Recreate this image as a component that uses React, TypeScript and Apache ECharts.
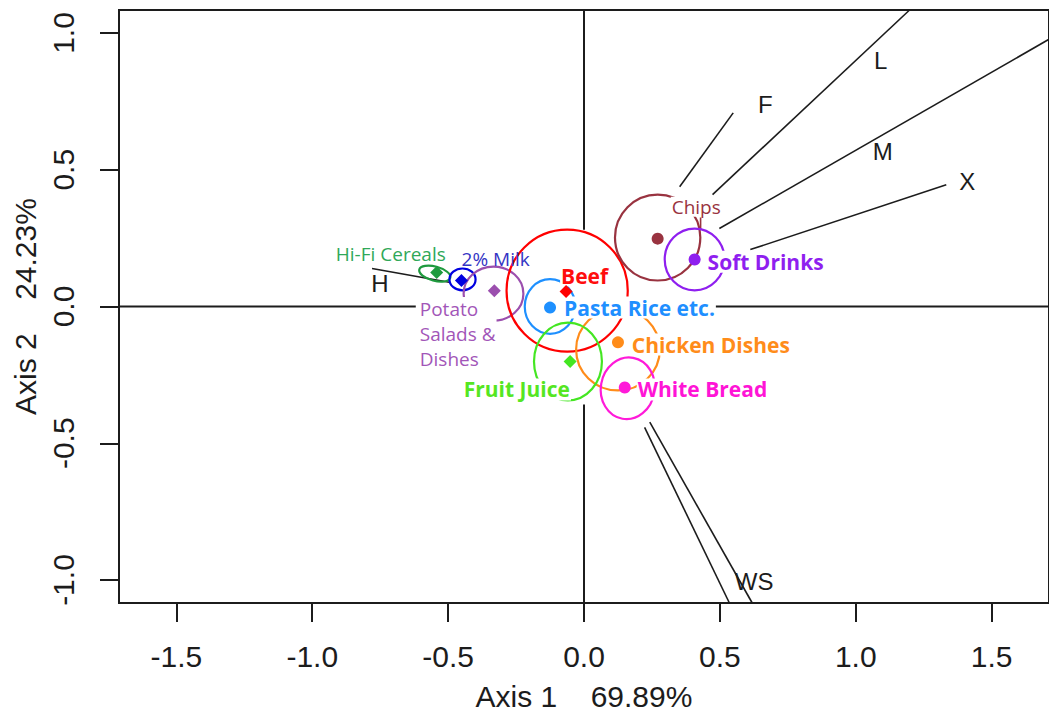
import React, { useEffect, useRef } from "react";
import * as echarts from "echarts";

// ---- axis ticks ----
const xTicks = [-1.5, -1.0, -0.5, 0.0, 0.5, 1.0, 1.5];
const yTicks = [-1.0, -0.5, 0.0, 0.5, 1.0];
const xTitle = "Axis 1    69.89%";
const yTitle = "Axis 2    24.23%";

// ---- food items (row points) ----
const foods = [
  "Hi-Fi Cereals",
  "2% Milk",
  "Potato\nSalads &\nDishes",
  "Beef",
  "Pasta Rice etc.",
  "Chicken Dishes",
  "Fruit Juice",
  "White Bread",
  "Chips",
  "Soft Drinks",
];
const foodX = [-0.542, -0.451, -0.33, -0.066, -0.125, 0.125, -0.051, 0.15, 0.271, 0.407];
const foodY = [0.124, 0.095, 0.058, 0.055, -0.004, -0.131, -0.201, -0.296, 0.248, 0.172];
const foodSymbols = ["diamond", "diamond", "diamond", "diamond", "circle", "circle", "diamond", "circle", "circle", "circle"];
const foodColors = ["#1f9a3e", "#0000e0", "#9b4fae", "#ff0000", "#1e90ff", "#ff8c1a", "#44e622", "#ff1ad9", "#993340", "#8f1fef"];
const labelColors = ["#2fa858", "#3434c4", "#a256b8", "#ff0d0d", "#1f8fff", "#ff8c1a", "#55e622", "#ff14d6", "#993340", "#8f1fef"];
const labelBold = [false, false, false, true, true, true, true, true, false, true];
const labelBg = [true, false, true, true, true, true, true, true, true, true];

// confidence ellipses: centre, radii (data units), rotation (deg)
const ellCX = [-0.549, -0.447, -0.333, -0.062, -0.125, 0.125, -0.059, 0.161, 0.271, 0.407];
const ellCY = [0.12, 0.099, 0.047, 0.058, 0.0, -0.157, -0.201, -0.299, 0.252, 0.172];
const ellRX = [0.059, 0.048, 0.11, 0.223, 0.093, 0.154, 0.125, 0.099, 0.157, 0.11];
const ellRY = [0.026, 0.04, 0.099, 0.223, 0.1, 0.15, 0.142, 0.113, 0.157, 0.113];
const ellRot = [15, 0, 0, 0, 0, 0, 0, 10, 0, 0];

// food label anchors
const labX = [-0.711, -0.454, -0.608, -0.088, -0.077, 0.172, -0.048, 0.194, 0.319, 0.451];
const labY = [0.193, 0.175, -0.102, 0.113, -0.004, -0.139, -0.303, -0.303, 0.365, 0.164];
const labPos = ["inside", "right", "right", "right", "right", "right", "left", "right", "right", "right"];

// ---- variable vectors (column arrows) ----
const varNames = ["H", "F", "L", "M", "X", "WS", "WS"];
const varX1 = [-0.78, 0.352, 0.473, 0.498, 0.612, 0.223, 0.242];
const varY1 = [0.139, 0.438, 0.409, 0.285, 0.208, -0.442, -0.423];
const varX2 = [-0.491, 0.549, 1.198, 1.711, 1.333, 0.535, 0.619];
const varY2 = [0.088, 0.708, 1.084, 0.977, 0.445, -1.084, -1.084];
const varLabels = ["H", "F", "L", "M", "X", "WS"];
const varLabX = [-0.751, 0.667, 1.092, 1.099, 1.41, 0.626];
const varLabY = [0.084, 0.737, 0.901, 0.566, 0.456, -1.004];

// ---- reference lines at zero (visible parts) ----
const zeroX1 = [-1.711, 0.473, 0, 0];
const zeroY1 = [0, 0, 1.084, -0.358];
const zeroX2 = [-0.619, 1.711, 0, 0];
const zeroY2 = [0, 0, 0.281, -1.084];

// small connector under the Chips label
const chipsTick = [[0.429, 0.325], [0.429, 0.281]];

const axisFont = "'Liberation Sans', Arial, sans-serif";
const labelFont = "'Open Sans', 'Noto Sans', sans-serif";
const ink = "#1c1c1c";

export default function App() {
  const ref = useRef<HTMLDivElement>(null);
  useEffect(() => {
    if (!ref.current) return;
    const chart = echarts.init(ref.current, null, { renderer: "svg" });

    const series: any[] = [];
    zeroX1.forEach((_, i) => {
      series.push({
        type: "line",
        data: [[zeroX1[i], zeroY1[i]], [zeroX2[i], zeroY2[i]]],
        symbol: "none",
        silent: true,
        z: 1,
        lineStyle: { color: ink, width: 2 },
      });
    });
    varNames.forEach((_, i) => {
      series.push({
        type: "line",
        data: [[varX1[i], varY1[i]], [varX2[i], varY2[i]]],
        symbol: "none",
        silent: true,
        z: 2,
        lineStyle: { color: ink, width: 1.6 },
      });
    });
    series.push({
      type: "line",
      data: chipsTick,
      symbol: "none",
      silent: true,
      z: 2,
      lineStyle: { color: foodColors[8], width: 1.6 },
    });
    series.push({
      type: "custom",
      z: 3,
      silent: true,
      data: foods.map((_, i) => [ellCX[i], ellCY[i], ellRX[i], ellRY[i], ellRot[i]]),
      encode: { x: 0, y: 1 },
      renderItem: (params: any, api: any) => {
        const i = params.dataIndex;
        const c = api.coord([api.value(0), api.value(1)]);
        const s = api.size([api.value(2), api.value(3)]);
        return {
          type: "ellipse",
          x: c[0],
          y: c[1],
          rotation: (-api.value(4) * Math.PI) / 180,
          shape: { cx: 0, cy: 0, rx: s[0], ry: s[1] },
          style: { fill: "none", stroke: foodColors[i], lineWidth: 2.2 },
        };
      },
    });
    series.push({
      type: "scatter",
      z: 5,
      silent: true,
      symbolSize: 0,
      itemStyle: { opacity: 1 },
      data: foods.map((name, i) => {
        const fs = labelBold[i] ? 21 : 19;
        return {
          value: [labX[i], labY[i]],
          name,
          label: {
            show: true,
            position: labPos[i],
            distance: 0,
            formatter: name,
            color: labelColors[i],
            opacity: 1,
            fontFamily: labelFont,
            fontSize: fs,
            fontWeight: labelBold[i] ? "bold" : "normal",
            lineHeight: name.indexOf("\n") >= 0 ? 25 : fs + 1,
            backgroundColor: labelBg[i] ? "#ffffff" : "transparent",
            padding: [0, 1, 0, 1],
            align: labPos[i] === "right" ? "left" : labPos[i] === "left" ? "right" : "center",
            verticalAlign: "middle",
          },
        };
      }),
    });
    series.push({
      type: "scatter",
      z: 6,
      silent: true,
      itemStyle: { opacity: 1 },
      data: foods.map((name, i) => ({
        value: [foodX[i], foodY[i]],
        symbol: foodSymbols[i],
        symbolSize: foodSymbols[i] === "diamond" ? 13 : 12,
        itemStyle: { color: foodColors[i], opacity: 1 },
      })),
    });
    series.push({
      type: "scatter",
      z: 4,
      silent: true,
      symbolSize: 0,
      itemStyle: { opacity: 1 },
      data: varLabels.map((name, i) => ({
        value: [varLabX[i], varLabY[i]],
        label: {
          show: true,
          position: "inside",
          formatter: name,
          color: ink,
          opacity: 1,
          fontFamily: axisFont,
          fontSize: 24,
        },
      })),
    });

    chart.setOption({
      animation: false,
      backgroundColor: "#ffffff",
      grid: {
        left: 119,
        right: -4,
        top: 10,
        bottom: 112,
        show: true,
        borderColor: ink,
        borderWidth: 2,
        containLabel: false,
      },
      xAxis: {
        type: "value",
        min: -1.711,
        max: 1.711,
        position: "bottom",
        axisLine: { show: true, onZero: false, lineStyle: { color: ink, width: 2 } },
        axisTick: { show: true, customValues: xTicks, length: 19, lineStyle: { color: ink, width: 2 } },
        axisLabel: {
          customValues: xTicks,
          formatter: (v: number) => v.toFixed(1),
          fontSize: 30,
          color: ink,
          fontFamily: axisFont,
          margin: 38,
        },
        splitLine: { show: false },
        name: xTitle,
        nameLocation: "middle",
        nameGap: 78,
        nameTextStyle: { fontSize: 30, color: ink, fontFamily: axisFont },
      },
      yAxis: {
        type: "value",
        min: -1.084,
        max: 1.084,
        position: "left",
        axisLine: { show: true, onZero: false, lineStyle: { color: ink, width: 2 } },
        axisTick: { show: true, customValues: yTicks, length: 19, lineStyle: { color: ink, width: 2 } },
        axisLabel: {
          customValues: yTicks,
          formatter: (v: number) => v.toFixed(1),
          rotate: 90,
          fontSize: 30,
          color: ink,
          fontFamily: axisFont,
          margin: 41,
        },
        splitLine: { show: false },
        name: yTitle,
        nameLocation: "middle",
        nameGap: 78,
        nameTextStyle: { fontSize: 30, color: ink, fontFamily: axisFont },
      },
      series,
    });
    return () => chart.dispose();
  }, []);
  return (
    <div
      ref={ref}
      style={{ position: "fixed", left: 0, top: 0, width: 1049, height: 716, background: "#fff" }}
    />
  );
}
